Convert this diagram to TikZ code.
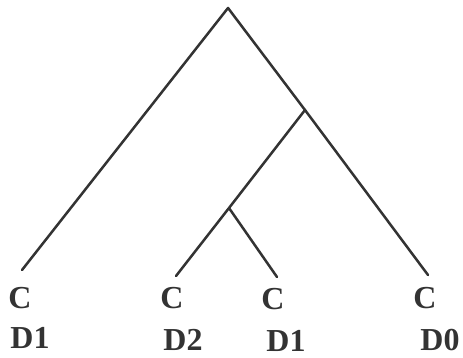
\documentclass[tikz,border=0pt]{standalone}
\usepackage{fontspec}
\setmainfont{Liberation Serif}
\begin{document}
\begin{tikzpicture}[x=1pt,y=-1pt,
  edge/.style={draw=black!80,line width=2.5pt,line cap=round,line join=round},
  lbl/.style={inner sep=0pt,font=\fontsize{32}{32}\selectfont\bfseries,text=black!80}]
\useasboundingbox (0,0) rectangle (463,358);
\coordinate (r) at (228,8);
\coordinate (n1) at (305,110);
\coordinate (n2) at (229,208);
\coordinate (l1) at (22,270);
\coordinate (l2) at (176,276);
\coordinate (l3) at (277,277);
\coordinate (l4) at (428,275);
\draw[edge] (l1) -- (r) -- (n1) -- (l4);
\draw[edge] (n1) -- (n2) -- (l2);
\draw[edge] (n2) -- (l3);
\node[lbl] (c1) at (20,298) {C};
\node[lbl] (c2) at (172,298) {C};
\node[lbl] (c3) at (273,299) {C};
\node[lbl] (c4) at (425,298) {C};
\node[lbl] (d1) at (30,338) {D1};
\node[lbl] (d2) at (183,340) {D2};
\node[lbl] (d3) at (286,341) {D1};
\node[lbl] (d4) at (440,340) {D0};
\end{tikzpicture}
\end{document}
